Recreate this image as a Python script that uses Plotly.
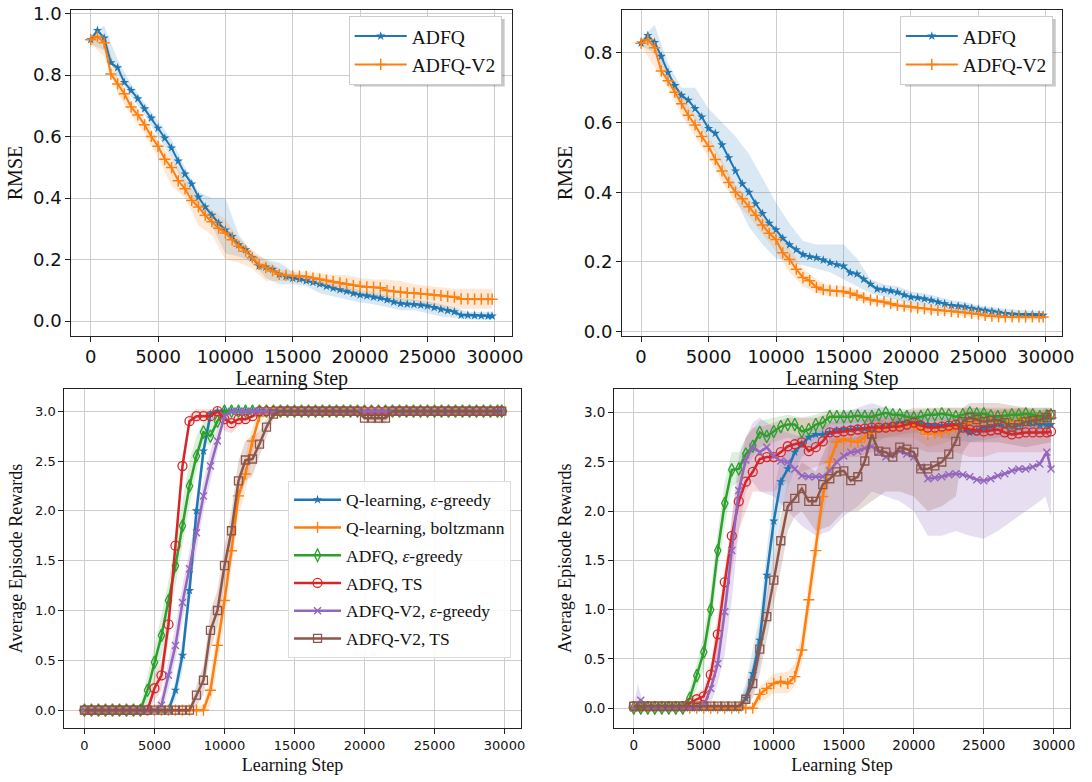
import plotly.graph_objects as go

# ---------------- data ----------------
STEPS = list(range(0, 30000, 500)) + [29800]
BAND_STEPS = list(range(0, 30000, 1000)) + [29800]

# Top-left RMSE
TL_ADFQ = [0.915, 0.945, 0.92, 0.84, 0.824, 0.776, 0.75, 0.723, 0.69, 0.66,
           0.627, 0.595, 0.563, 0.52, 0.478, 0.446, 0.403, 0.371, 0.344, 0.318,
           0.296, 0.275, 0.248, 0.232, 0.206, 0.179, 0.176, 0.168, 0.152, 0.145,
           0.139, 0.136, 0.131, 0.126, 0.12, 0.113, 0.107, 0.102, 0.097, 0.09,
           0.085, 0.082, 0.078, 0.075, 0.069, 0.062, 0.057, 0.055, 0.054, 0.052,
           0.049, 0.044, 0.038, 0.034, 0.030, 0.019, 0.019, 0.018, 0.017, 0.016,
           0.016]
TL_V2 = [0.915, 0.925, 0.905, 0.803, 0.771, 0.739, 0.696, 0.67, 0.638, 0.6,
         0.568, 0.526, 0.499, 0.456, 0.43, 0.392, 0.371, 0.344, 0.323, 0.302,
         0.286, 0.264, 0.243, 0.227, 0.206, 0.184, 0.174, 0.163, 0.152, 0.149,
         0.147, 0.146, 0.145, 0.14, 0.136, 0.132, 0.128, 0.124, 0.12, 0.116,
         0.113, 0.111, 0.11, 0.108, 0.099, 0.096, 0.094, 0.092, 0.091, 0.089,
         0.087, 0.085, 0.083, 0.08, 0.078, 0.072, 0.072, 0.071, 0.071, 0.071,
         0.071]
TL_ADFQ_LO = [0.90, 0.88, 0.80, 0.73, 0.67, 0.60, 0.53, 0.43, 0.37, 0.31, 0.22, 0.21, 0.19, 0.14, 0.12, 0.12,
              0.115, 0.09, 0.08, 0.07, 0.06, 0.055, 0.045, 0.035, 0.035, 0.025, 0.015, 0.01, 0.005, 0.005, 0.005]
TL_ADFQ_HI = [0.93, 0.96, 0.85, 0.77, 0.71, 0.65, 0.59, 0.50, 0.42, 0.40, 0.40, 0.28, 0.22, 0.20, 0.19, 0.16,
              0.145, 0.135, 0.125, 0.115, 0.10, 0.095, 0.085, 0.075, 0.07, 0.065, 0.055, 0.045, 0.03, 0.03, 0.03]
TL_V2_LO = [0.90, 0.86, 0.74, 0.67, 0.61, 0.53, 0.44, 0.40, 0.31, 0.28, 0.20, 0.19, 0.17, 0.13, 0.13, 0.13,
            0.13, 0.12, 0.10, 0.09, 0.08, 0.08, 0.07, 0.06, 0.06, 0.05, 0.04, 0.04, 0.04, 0.04, 0.04]
TL_V2_HI = [0.93, 0.93, 0.80, 0.72, 0.66, 0.59, 0.53, 0.46, 0.40, 0.36, 0.33, 0.27, 0.23, 0.20, 0.17, 0.16,
            0.16, 0.155, 0.15, 0.15, 0.14, 0.135, 0.135, 0.13, 0.12, 0.115, 0.11, 0.105, 0.105, 0.105, 0.105]

# Top-right RMSE
TR_ADFQ = [0.828, 0.85, 0.83, 0.79, 0.744, 0.706, 0.678, 0.664, 0.64, 0.616,
           0.583, 0.569, 0.536, 0.499, 0.461, 0.424, 0.4, 0.367, 0.339, 0.311,
           0.292, 0.268, 0.249, 0.235, 0.221, 0.215, 0.212, 0.205, 0.198, 0.192,
           0.188, 0.169, 0.165, 0.15, 0.136, 0.122, 0.12, 0.117, 0.113, 0.105,
           0.099, 0.097, 0.094, 0.09, 0.085, 0.08, 0.075, 0.073, 0.071, 0.067,
           0.064, 0.061, 0.058, 0.055, 0.052, 0.05, 0.049, 0.049, 0.049, 0.048,
           0.047]
TR_V2 = [0.828, 0.838, 0.815, 0.748, 0.72, 0.687, 0.654, 0.621, 0.593, 0.56,
         0.532, 0.494, 0.461, 0.428, 0.4, 0.381, 0.358, 0.334, 0.306, 0.282,
         0.264, 0.226, 0.207, 0.179, 0.155, 0.146, 0.127, 0.12, 0.118, 0.116,
         0.115, 0.11, 0.104, 0.097, 0.091, 0.088, 0.085, 0.08, 0.075, 0.073,
         0.071, 0.068, 0.066, 0.063, 0.061, 0.06, 0.058, 0.056, 0.055, 0.052,
         0.05, 0.046, 0.044, 0.043, 0.042, 0.042, 0.042, 0.042, 0.042, 0.042,
         0.042]
TR_ADFQ_LO = [0.82, 0.80, 0.72, 0.65, 0.61, 0.55, 0.48, 0.38, 0.30, 0.25, 0.21, 0.20, 0.19, 0.18, 0.17, 0.15,
              0.13, 0.11, 0.10, 0.09, 0.08, 0.075, 0.07, 0.06, 0.055, 0.05, 0.045, 0.04, 0.038, 0.036, 0.036]
TR_ADFQ_HI = [0.84, 0.88, 0.77, 0.70, 0.70, 0.64, 0.60, 0.56, 0.51, 0.44, 0.37, 0.31, 0.26, 0.25, 0.25, 0.25,
              0.21, 0.15, 0.135, 0.13, 0.115, 0.11, 0.10, 0.09, 0.085, 0.075, 0.07, 0.065, 0.062, 0.06, 0.06]
TR_V2_LO = [0.82, 0.76, 0.70, 0.62, 0.56, 0.50, 0.43, 0.37, 0.33, 0.28, 0.23, 0.17, 0.13, 0.11, 0.10, 0.10,
            0.09, 0.08, 0.075, 0.065, 0.06, 0.055, 0.05, 0.048, 0.045, 0.04, 0.035, 0.033, 0.033, 0.033, 0.033]
TR_V2_HI = [0.84, 0.84, 0.74, 0.68, 0.62, 0.56, 0.49, 0.42, 0.38, 0.33, 0.29, 0.24, 0.18, 0.15, 0.13, 0.13,
            0.12, 0.10, 0.095, 0.085, 0.08, 0.075, 0.07, 0.067, 0.065, 0.06, 0.055, 0.052, 0.052, 0.052, 0.052]

# Bottom-left rewards
BL_Q_EPS = [0, 0, 0, 0, 0, 0, 0, 0, 0, 0, 0, 0, 0,
            0.2, 0.55, 1.2, 2.0, 2.6, 2.97,
            3, 3, 3, 3, 3, 3, 3, 3, 3, 3, 3, 3, 3, 3, 3, 3, 3, 3, 3, 3, 3,
            3, 3, 3, 3, 3, 3, 3, 3, 3, 3, 3, 3, 3, 3, 3, 3, 3, 3, 3, 3, 3]
BL_Q_BOLTZ = [0, 0, 0, 0, 0, 0, 0, 0, 0, 0, 0, 0, 0, 0, 0, 0, 0, 0,
              0.2, 0.65, 1.1, 1.6, 2.15, 2.37, 2.7, 2.95,
              3, 3, 3, 3, 3, 3, 3, 3, 3, 3, 3, 3, 3, 3, 3, 3, 3, 3,
              3, 3, 3, 3, 3, 3, 3, 3, 3, 3, 3, 3, 3, 3, 3, 3, 3]
BL_ADFQ_EPS = [0, 0, 0, 0, 0, 0, 0, 0, 0,
               0.2, 0.48, 0.75, 1.1, 1.45, 1.85, 2.25, 2.55, 2.79, 2.75, 2.9,
               3, 3, 3, 3, 3, 3, 3, 3, 3, 3, 3, 3, 3, 3, 3, 3, 3, 3, 3, 3, 3,
               3, 3, 3, 3, 3, 3, 3, 3, 3, 3, 3, 3, 3, 3, 3, 3, 3, 3, 3, 3]
BL_ADFQ_TS = [0, 0, 0, 0, 0, 0, 0, 0, 0, 0,
              0.22, 0.35, 0.86, 1.65, 2.45, 2.9, 2.95, 2.95, 2.95, 3.0, 2.92, 2.88, 2.92, 2.92, 2.95,
              3, 3, 3, 3, 3, 3, 3, 3, 3, 3, 3, 3, 3, 3, 3, 3, 3, 3,
              3, 3, 3, 3, 3, 3, 3, 3, 3, 3, 3, 3, 3, 3, 3, 3, 3, 3]
BL_V2_EPS = [0, 0, 0, 0, 0, 0, 0, 0, 0, 0, 0,
             0.05, 0.35, 0.65, 1.08, 1.42, 1.78, 2.15, 2.45, 2.7, 2.95,
             3, 3, 3, 3, 3, 3, 3, 3, 3, 3, 3, 3, 3, 3, 3, 3, 3, 3, 3, 3,
             3, 3, 3, 3, 3, 3, 3, 3, 3, 3, 3, 3, 3, 3, 3, 3, 3, 3, 3, 3]
BL_V2_TS = [0, 0, 0, 0, 0, 0, 0, 0, 0, 0, 0, 0, 0, 0, 0, 0,
            0.15, 0.3, 0.8, 1.0, 1.45, 1.8, 2.3, 2.51, 2.52, 2.67, 2.84, 2.97,
            3, 3, 3, 3, 3, 3, 3, 3, 3, 3, 3, 3,
            2.93, 2.93, 2.93, 2.93,
            3, 3, 3, 3, 3, 3, 3, 3, 3, 3, 3, 3, 3, 3, 3, 3, 3]

BL_Q_EPS_BAND = ([0, 6000, 6500, 7000, 7500, 8000, 8500, 9000, 9500, 29800],
                 [-0.02, -0.02, 0.1, 0.4, 1.05, 1.85, 2.5, 2.9, 2.98, 2.98],
                 [0.02, 0.02, 0.3, 0.7, 1.35, 2.15, 2.7, 3.0, 3.02, 3.02])
BL_Q_BOLTZ_BAND = ([0, 8500, 9000, 9500, 10000, 10500, 11000, 11500, 12000, 12500, 13000, 29800],
                   [-0.02, -0.02, 0.05, 0.45, 0.9, 1.4, 1.95, 2.2, 2.55, 2.85, 2.98, 2.98],
                   [0.02, 0.05, 0.35, 0.85, 1.3, 1.8, 2.35, 2.55, 2.85, 3.0, 3.02, 3.02])
BL_ADFQ_EPS_BAND = ([0, 3500, 4000, 4500, 5000, 5500, 6000, 6500, 7000, 7500, 8000, 8500, 9000, 9500, 10000, 29800],
                    [-0.03, -0.03, -0.02, 0.05, 0.3, 0.55, 0.9, 1.25, 1.65, 2.05, 2.4, 2.7, 2.65, 2.85, 2.97, 2.97],
                    [0.03, 0.03, 0.05, 0.35, 0.65, 0.95, 1.3, 1.7, 2.1, 2.5, 2.75, 2.9, 2.9, 2.98, 3.03, 3.03])
BL_ADFQ_TS_BAND = ([0, 4500, 5000, 5500, 6000, 6500, 7000, 7500, 8000, 9000, 9500, 10000, 10500, 11000, 11500, 12000, 12500, 29800],
                   [-0.02, -0.02, 0.1, 0.2, 0.7, 1.5, 2.35, 2.85, 2.9, 2.9, 2.95, 2.8, 2.78, 2.85, 2.87, 2.92, 2.98, 2.98],
                   [0.02, 0.02, 0.35, 0.5, 1.0, 1.8, 2.55, 2.97, 3.02, 3.02, 3.03, 3.02, 3.0, 3.0, 3.0, 3.0, 3.02, 3.02])
BL_V2_EPS_BAND = ([0, 5000, 5500, 6000, 6500, 7000, 7500, 8000, 8500, 9000, 9500, 10000, 10500, 29800],
                  [-0.02, -0.02, -0.02, 0.2, 0.5, 0.9, 1.25, 1.6, 2.0, 2.3, 2.6, 2.9, 2.98, 2.98],
                  [0.02, 0.02, 0.15, 0.5, 0.85, 1.25, 1.6, 1.95, 2.3, 2.6, 2.85, 3.0, 3.02, 3.02])
BL_V2_TS_BAND = ([0, 7500, 8000, 8500, 9000, 9500, 10000, 10500, 11000, 11500, 12000, 12500, 13000, 13500, 14000,
                  20000, 20500, 21500, 22000, 29800],
                 [-0.02, -0.02, 0.05, 0.15, 0.6, 0.85, 1.25, 1.6, 2.1, 2.3, 2.35, 2.55, 2.75, 2.93, 2.98,
                  2.98, 2.88, 2.88, 2.98, 2.98],
                 [0.02, 0.02, 0.25, 0.45, 1.0, 1.2, 1.65, 2.0, 2.5, 2.7, 2.75, 2.8, 2.92, 3.02, 3.02,
                  3.02, 2.98, 2.98, 3.02, 3.02])

# Bottom-right rewards
BR_Q_EPS = [0, 0, 0, 0, 0, 0, 0, 0, 0, 0, 0, 0, 0, 0, 0, 0,
            0.1, 0.35, 0.69, 1.35, 1.9, 2.3, 2.43, 2.6, 2.68, 2.75,
            2.78, 2.78, 2.8, 2.82, 2.83, 2.83, 2.84, 2.84, 2.85, 2.86,
            2.87, 2.88, 2.9, 2.9, 2.9, 2.89, 2.88, 2.87, 2.87, 2.88,
            2.88, 2.84, 2.8, 2.82, 2.85, 2.86, 2.88, 2.87, 2.87, 2.88,
            2.9, 2.89, 2.88, 2.88, 2.88]
BR_Q_BOLTZ = [0, 0, 0, 0, 0, 0, 0, 0, 0, 0, 0, 0, 0, 0, 0, 0, 0, 0,
              0.14, 0.2, 0.25, 0.27, 0.25, 0.32, 0.59, 1.1, 1.6, 2.15,
              2.5, 2.7, 2.73, 2.71, 2.7, 2.75, 2.8, 2.85, 2.85, 2.86,
              2.87, 2.88, 2.87, 2.83, 2.78, 2.79, 2.8, 2.82, 2.85, 2.88,
              2.9, 2.91, 2.92, 2.92, 2.92, 2.91, 2.9, 2.92, 2.93, 2.94,
              2.95, 2.95, 2.95]
BR_ADFQ_EPS = [0, 0, 0, 0, 0, 0, 0, 0,
               0.1, 0.33, 0.57, 1.0, 1.6, 2.08, 2.42, 2.43, 2.58, 2.66,
               2.8, 2.76, 2.81, 2.86, 2.88, 2.88, 2.81, 2.83, 2.88, 2.9,
               2.96, 2.96, 2.96, 2.96, 2.97, 2.96, 2.96, 2.98, 3.0, 2.98,
               2.98, 2.96, 2.95, 2.96, 2.98, 2.98, 2.99, 2.98, 2.96, 2.98,
               3.0, 2.99, 2.99, 2.97, 2.96, 2.97, 2.98, 2.98, 2.99, 2.98,
               2.96, 2.97, 2.98]
BR_ADFQ_TS = [0.02, 0.02, 0.02, 0.02, 0.02, 0.02, 0.02, 0.02,
              0.05, 0.09, 0.12, 0.34, 0.75, 1.28, 1.75, 2.1, 2.3, 2.4,
              2.53, 2.55, 2.55, 2.6, 2.66, 2.68, 2.7, 2.61, 2.65, 2.71,
              2.8, 2.8, 2.81, 2.82, 2.83, 2.84, 2.85, 2.85, 2.85, 2.86,
              2.86, 2.88, 2.9, 2.87, 2.85, 2.85, 2.86, 2.87, 2.88, 2.85,
              2.83, 2.82, 2.81, 2.82, 2.83, 2.8, 2.78, 2.79, 2.8, 2.8,
              2.8, 2.8, 2.81]
BR_V2_EPS = [0.0, 0.08, 0.01, 0.01, 0.01, 0.01, 0.01, 0.01, 0.01, 0.01,
             0.03, 0.2, 0.45, 0.98, 1.6, 2.21, 2.52, 2.65, 2.6, 2.65,
             2.56, 2.51, 2.5, 2.43, 2.36, 2.35, 2.35, 2.35, 2.41, 2.5,
             2.56, 2.6, 2.61, 2.64, 2.66, 2.6, 2.55, 2.58, 2.61, 2.58,
             2.55, 2.45, 2.33, 2.34, 2.35, 2.37, 2.38, 2.37, 2.35, 2.32,
             2.31, 2.33, 2.36, 2.38, 2.41, 2.43, 2.43, 2.45, 2.48, 2.6,
             2.43]
BR_V2_TS = [0.02, 0.02, 0.02, 0.02, 0.02, 0.02, 0.02, 0.02, 0.02, 0.02, 0.02, 0.02, 0.02, 0.02, 0.02, 0.02,
            0.09, 0.25, 0.6, 0.93, 1.3, 1.7, 2.05, 2.13, 2.23, 2.1,
            2.1, 2.27, 2.33, 2.4, 2.41, 2.31, 2.35, 2.51, 2.78, 2.61,
            2.6, 2.55, 2.65, 2.63, 2.6, 2.43, 2.43, 2.46, 2.5, 2.58,
            2.71, 2.91, 2.95, 2.93, 2.91, 2.92, 2.93, 2.9, 2.85, 2.88,
            2.91, 2.92, 2.93, 2.95, 2.98]

BR_Q_EPS_BAND = ([0, 7500, 8000, 8500, 9000, 9500, 10000, 10500, 11000, 12000, 13000, 14000, 16000, 18000, 20000,
                  22000, 23000, 24000, 26000, 28000, 29800],
                 [-0.02, -0.02, 0.0, 0.15, 0.45, 1.05, 1.55, 2.0, 2.25, 2.55, 2.65, 2.7, 2.72, 2.75, 2.8,
                  2.75, 2.72, 2.7, 2.75, 2.78, 2.78],
                 [0.02, 0.05, 0.25, 0.6, 0.95, 1.6, 2.2, 2.55, 2.65, 2.8, 2.88, 2.9, 2.93, 2.97, 3.0,
                  3.0, 2.98, 2.95, 2.98, 3.0, 3.0])
BR_Q_BOLTZ_BAND = ([0, 8500, 9000, 10000, 11000, 11500, 12000, 12500, 13000, 13500, 14000, 15000, 16000, 18000,
                    20000, 21000, 22000, 24000, 26000, 28000, 29800],
                   [-0.02, -0.02, 0.05, 0.15, 0.15, 0.22, 0.45, 0.9, 1.4, 1.95, 2.3, 2.6, 2.6, 2.75,
                    2.75, 2.65, 2.68, 2.8, 2.82, 2.85, 2.85],
                   [0.02, 0.03, 0.22, 0.35, 0.37, 0.45, 0.75, 1.3, 1.8, 2.35, 2.7, 2.85, 2.82, 2.95,
                    2.98, 2.9, 2.92, 3.0, 3.02, 3.03, 3.03])
BR_ADFQ_EPS_BAND = ([0, 3500, 4000, 4500, 5000, 5500, 6000, 6500, 7000, 7500, 8000, 9000, 10000, 11000, 12000,
                     13000, 14000, 16000, 18000, 20000, 22000, 24000, 26000, 28000, 29800],
                    [-0.04, -0.04, 0.0, 0.2, 0.4, 0.8, 1.4, 1.85, 2.25, 2.3, 2.45, 2.65, 2.7, 2.75, 2.7,
                     2.75, 2.88, 2.9, 2.92, 2.9, 2.92, 2.93, 2.9, 2.92, 2.88],
                    [0.02, 0.02, 0.2, 0.45, 0.75, 1.2, 1.8, 2.3, 2.6, 2.6, 2.75, 2.92, 2.95, 2.98, 2.95,
                     2.98, 3.03, 3.03, 3.05, 3.03, 3.05, 3.05, 3.03, 3.05, 3.05])
BR_ADFQ_TS_BAND = ([0, 4000, 4500, 5000, 5500, 6000, 6500, 7000, 7500, 8000, 8500, 9000, 10000, 11000, 12000,
                    13000, 14000, 15000, 16000, 17000, 18000, 19000, 20000, 21000, 22000, 23000, 24000, 25000,
                    26000, 27000, 28000, 29000, 29800],
                   [-0.02, -0.01, 0.03, 0.05, 0.15, 0.4, 0.9, 1.4, 1.8, 2.0, 2.2, 2.2, 2.2, 2.3, 2.4,
                    2.45, 2.5, 2.55, 2.55, 2.6, 2.6, 2.6, 2.65, 2.6, 2.6, 2.6, 2.55, 2.55,
                    2.6, 2.6, 2.6, 2.6, 2.6],
                   [0.02, 0.05, 0.15, 0.2, 0.45, 0.95, 1.4, 1.95, 2.4, 2.75, 2.85, 2.85, 2.9, 2.95, 2.95,
                    2.95, 3.0, 3.0, 3.0, 3.0, 3.0, 3.0, 3.05, 3.05, 3.05, 3.05, 3.05, 3.05,
                    3.05, 3.05, 3.05, 3.0, 3.0])
BR_V2_EPS_BAND = ([0, 300, 700, 5000, 5500, 6000, 6500, 7000, 7500, 8000, 8500, 9000, 10000, 11000, 12000,
                   13000, 14000, 15000, 16000, 17000, 18000, 19000, 20000, 21000, 22000, 23000, 24000, 25000,
                   26000, 27000, 28000, 29000, 29400, 29800],
                  [-0.02, -0.02, -0.02, -0.02, 0.05, 0.25, 0.55, 1.1, 1.8, 2.2, 2.3, 2.2, 2.15, 2.0, 1.85,
                   1.75, 1.8, 1.95, 2.05, 2.2, 2.15, 2.1, 2.0, 1.75, 1.75, 1.8, 1.75, 1.72,
                   1.8, 1.9, 2.0, 2.1, 2.15, 1.95],
                  [0.02, 0.25, 0.02, 0.02, 0.25, 0.7, 1.1, 1.95, 2.55, 2.75, 2.9, 2.95, 2.85, 2.8, 2.75,
                   2.8, 2.9, 3.0, 3.05, 3.1, 3.05, 3.0, 3.0, 2.95, 2.95, 2.95, 2.95, 2.9,
                   2.9, 2.9, 2.95, 3.0, 3.05, 3.0])
BR_V2_TS_BAND = ([0, 7500, 8000, 8500, 9000, 9500, 10000, 10500, 11000, 11500, 12000, 13000, 14000, 15000,
                  16000, 17000, 18000, 19000, 20000, 21000, 22000, 23000, 23500, 24000, 26000, 28000, 29800],
                 [-0.02, -0.02, 0.02, 0.1, 0.35, 0.7, 1.05, 1.4, 1.8, 1.95, 2.0, 1.8, 1.85, 2.0,
                  2.0, 2.1, 2.2, 2.2, 2.15, 2.0, 2.05, 2.15, 2.6, 2.7, 2.7, 2.65, 2.7],
                 [0.05, 0.05, 0.2, 0.45, 0.85, 1.15, 1.55, 1.95, 2.3, 2.35, 2.5, 2.4, 2.75, 2.75,
                  2.75, 3.0, 2.9, 2.95, 2.85, 2.75, 2.8, 2.9, 3.05, 3.1, 3.1, 3.05, 3.05])

TOP_NAMES = ["ADFQ", "ADFQ-V2"]
BOTTOM_NAMES = ["Q-learning, <i>ε</i>-greedy", "Q-learning, boltzmann", "ADFQ, <i>ε</i>-greedy",
                "ADFQ, TS", "ADFQ-V2, <i>ε</i>-greedy", "ADFQ-V2, TS"]
X_TICKS = [0, 5000, 10000, 15000, 20000, 25000, 30000]

# ---------------- style ----------------
COLORS = ["#1f77b4", "#ff7f0e", "#2ca02c", "#d62728", "#9467bd", "#8c564b"]
FILLS = ["rgba(31,119,180,0.17)", "rgba(255,127,14,0.17)", "rgba(44,160,44,0.17)",
         "rgba(214,39,40,0.17)", "rgba(148,103,189,0.22)", "rgba(140,86,75,0.22)"]
BOTTOM_MARKERS = [dict(symbol="star", size=7),
                  dict(symbol="cross-thin-open", size=8, line=dict(width=1.4)),
                  dict(symbol="diamond-tall-open", size=9, line=dict(width=1.3)),
                  dict(symbol="circle-open", size=9, line=dict(width=1.3)),
                  dict(symbol="x-thin-open", size=7, line=dict(width=1.4)),
                  dict(symbol="square-open", size=8, line=dict(width=1.3))]
SERIF = "Liberation Serif, Times New Roman, serif"
SANS = "DejaVu Sans, sans-serif"
W, H = 1092, 782

fig = go.Figure()


def band(x, lo, hi, fill, xa, ya):
    fig.add_trace(go.Scatter(x=list(x) + list(x)[::-1], y=list(hi) + list(lo)[::-1],
                             fill="toself", fillcolor=fill, line=dict(width=0),
                             mode="lines", hoverinfo="skip", showlegend=False,
                             xaxis=xa, yaxis=ya))


# top panels
for xa, ya, leg, series, bands in [
        ("x", "y", "legend", [TL_ADFQ, TL_V2], [(TL_ADFQ_LO, TL_ADFQ_HI), (TL_V2_LO, TL_V2_HI)]),
        ("x2", "y2", "legend2", [TR_ADFQ, TR_V2], [(TR_ADFQ_LO, TR_ADFQ_HI), (TR_V2_LO, TR_V2_HI)])]:
    for i, (lo, hi) in enumerate(bands):
        band(BAND_STEPS, lo, hi, FILLS[i], xa, ya)
    mk = [dict(symbol="star", size=7, color=COLORS[0]),
          dict(symbol="cross-thin-open", size=8, color=COLORS[1], line=dict(width=1.5, color=COLORS[1]))]
    for i, ys in enumerate(series):
        fig.add_trace(go.Scatter(x=STEPS, y=ys, name=TOP_NAMES[i], mode="lines+markers",
                                 line=dict(color=COLORS[i], width=2), marker=mk[i],
                                 xaxis=xa, yaxis=ya, legend=leg))

# bottom panels
for xa, ya, show, series, bands in [
        ("x3", "y3", True, [BL_Q_EPS, BL_Q_BOLTZ, BL_ADFQ_EPS, BL_ADFQ_TS, BL_V2_EPS, BL_V2_TS],
         [BL_Q_EPS_BAND, BL_Q_BOLTZ_BAND, BL_ADFQ_EPS_BAND, BL_ADFQ_TS_BAND, BL_V2_EPS_BAND, BL_V2_TS_BAND]),
        ("x4", "y4", False, [BR_Q_EPS, BR_Q_BOLTZ, BR_ADFQ_EPS, BR_ADFQ_TS, BR_V2_EPS, BR_V2_TS],
         [BR_Q_EPS_BAND, BR_Q_BOLTZ_BAND, BR_ADFQ_EPS_BAND, BR_ADFQ_TS_BAND, BR_V2_EPS_BAND, BR_V2_TS_BAND])]:
    for i, (bx, lo, hi) in enumerate(bands):
        band(bx, lo, hi, FILLS[i], xa, ya)
    for i, ys in enumerate(series):
        m = dict(BOTTOM_MARKERS[i])
        m["color"] = COLORS[i]
        if "line" in m:
            m["line"] = dict(m["line"], color=COLORS[i])
        fig.add_trace(go.Scatter(x=STEPS, y=ys, name=BOTTOM_NAMES[i], mode="lines+markers",
                                 line=dict(color=COLORS[i], width=2.5), marker=m,
                                 xaxis=xa, yaxis=ya, legend="legend3", showlegend=show,
                                 legendgroup="g%d" % i))


def dom(a, b, total):
    return [a / total, b / total]


def ydom(top, bottom):
    return [1 - bottom / H, 1 - top / H]


def xaxis(domain, rng, anchor, fs, title_fs, standoff):
    return dict(domain=domain, range=rng, anchor=anchor, tickvals=X_TICKS, tickformat="d",
                showgrid=True, gridcolor="#cdcdcd", gridwidth=1, zeroline=False,
                showline=True, mirror=True, linecolor="#222", linewidth=1.2,
                ticks="outside", ticklen=5, tickcolor="#222",
                tickfont=dict(family=SANS, size=fs, color="#111"),
                title=dict(text="Learning Step", font=dict(family=SERIF, size=title_fs, color="#111"),
                           standoff=standoff))


def yaxis(domain, rng, anchor, dtick, fs, title, title_fs, standoff):
    return dict(domain=domain, range=rng, anchor=anchor, dtick=dtick, tick0=0, tickformat=".1f",
                showgrid=True, gridcolor="#cdcdcd", gridwidth=1, zeroline=False,
                showline=True, mirror=True, linecolor="#222", linewidth=1.2,
                ticks="outside", ticklen=5, tickcolor="#222", ticklabeloverflow="allow",
                tickfont=dict(family=SANS, size=fs, color="#111"),
                title=dict(text=title, font=dict(family=SERIF, size=title_fs, color="#111"),
                           standoff=standoff))


# legend geometry (px) for the two RMSE legends, used for their drop shadows
LEG_TOP, LEG_H, LEG_W = 9.1, 68.7, 152.4
LEG_RIGHTS = [507.3, 1064.5]

shapes = []
for r in LEG_RIGHTS:
    shapes.append(dict(type="rect", xref="paper", yref="paper", layer="above",
                       x0=(r - LEG_W + 3) / W, x1=(r + 3) / W,
                       y0=1 - (LEG_TOP + LEG_H + 3) / H, y1=1 - (LEG_TOP + 3) / H,
                       line=dict(width=0), fillcolor="rgba(0,0,0,0.22)"))

leg_common = dict(xanchor="right", yanchor="top", font=dict(family=SERIF, size=19.5, color="#111"),
                  bgcolor="white", bordercolor="#cccccc", borderwidth=1, itemwidth=52)

fig.update_layout(
    width=W, height=H, margin=dict(l=0, r=0, t=0, b=0),
    paper_bgcolor="white", plot_bgcolor="white", showlegend=True, hovermode=False,
    xaxis=xaxis(dom(72.2, 517.8, W), [-1432, 31286], "y", 18, 20, 1),
    yaxis=yaxis(ydom(3.3, 334.3), [-0.0478, 1.0106], "x", 0.2, 18, "RMSE", 20, 5),
    xaxis2=xaxis(dom(629, 1074.2, W), [-1407, 31225], "y2", 18, 20, 1),
    yaxis2=yaxis(ydom(3.3, 334.3), [-0.0121, 0.9224], "x2", 0.2, 18, "RMSE", 20, 5),
    xaxis3=xaxis(dom(65.2, 526.5, W), [-1427, 31158], "y3", 13, 18, 6),
    yaxis3=yaxis(ydom(388.3, 733.3), [-0.18, 3.224], "x3", 0.5, 13, "Average Episode Rewards", 18, 7),
    xaxis4=xaxis(dom(621, 1081.9, W), [-1399, 31158], "y4", 13.5, 18, 6),
    yaxis4=yaxis(ydom(388.3, 732.7), [-0.197, 3.243], "x4", 0.5, 13.5, "Average Episode Rewards", 18, 7),
    legend=dict(leg_common, x=LEG_RIGHTS[0] / W, y=1 - LEG_TOP / H),
    legend2=dict(leg_common, x=LEG_RIGHTS[1] / W, y=1 - LEG_TOP / H),
    legend3=dict(x=516.7 / W, y=1 - 481.8 / H, xanchor="right", yanchor="top",
                 font=dict(family=SERIF, size=17.5, color="#111"), bgcolor="rgba(255,255,255,0.9)",
                 bordercolor="#dddddd", borderwidth=1, traceorder="grouped", tracegroupgap=2,
                 itemwidth=47),
    shapes=shapes,
)

# the page's default 8px body margin would shift the whole figure; remove it
fig.write_html("out.html", config={"displayModeBar": False},
               post_script="document.body.style.margin='0px';")
